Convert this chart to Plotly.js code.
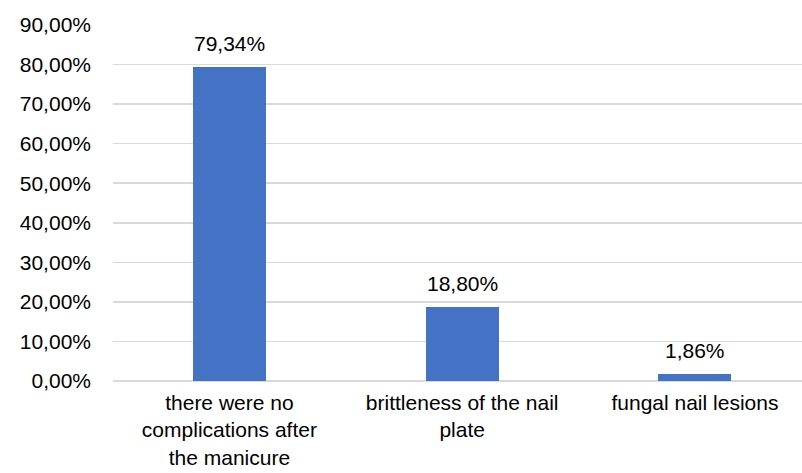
<!DOCTYPE html>
<html>
<head>
<meta charset="utf-8">
<script src="https://cdn.plot.ly/plotly-3.0.1.min.js"></script>
<style>html,body{margin:0;padding:0;background:#fff;}#chart{width:802px;height:473px;}</style>
</head>
<body>
<div id="chart"></div>
<script>
const categories = ["there were no<br>complications after<br>the manicure", "brittleness of the nail<br>plate", "fungal nail lesions"];
const values = [0.7934, 0.1880, 0.0186];
const labels = ["79,34%", "18,80%", "1,86%"];
const yTickValues = [0, 0.1, 0.2, 0.3, 0.4, 0.5, 0.6, 0.7, 0.8, 0.9];
const xPos = categories.map((c, i) => i);

const trace = {
  type: 'bar',
  x: xPos,
  y: values,
  width: 0.314,
  marker: {color: '#4472c4'},
  hoverinfo: 'none'
};

const annotations = values.map((v, i) => ({
  x: xPos[i], y: v, xref: 'x', yref: 'y',
  text: labels[i], showarrow: false,
  yanchor: 'bottom', yshift: 10,
  font: {family: 'Liberation Sans, Arial', size: 21, color: '#000'}
}));

const layout = {
  width: 802, height: 473,
  margin: {l: 113, r: 0, t: 25, b: 92},
  paper_bgcolor: '#fff', plot_bgcolor: '#fff',
  separators: ',.',
  showlegend: false,
  font: {family: 'Liberation Sans, Arial', size: 21, color: '#000'},
  annotations: annotations,
  xaxis: {
    range: [-0.5, 2.46],
    tickmode: 'array',
    tickvals: xPos,
    ticktext: categories,
    showgrid: false, zeroline: false, showline: false,
    ticks: '',
    ticklabelstandoff: 7,
    tickfont: {size: 21, color: '#000'}
  },
  yaxis: {
    range: [0, 0.9],
    tickmode: 'array',
    tickvals: yTickValues,
    tickformat: '.2%',
    showgrid: true, gridcolor: '#d9d9d9', gridwidth: 1.5,
    zeroline: true, zerolinecolor: '#d9d9d9', zerolinewidth: 1.5,
    showline: false, ticks: '',
    ticklabelstandoff: 21,
    tickfont: {size: 21, color: '#000'}
  },
  bargap: 0
};

Plotly.newPlot('chart', [trace], layout, {staticPlot: true, displayModeBar: false});
</script>
</body>
</html>
